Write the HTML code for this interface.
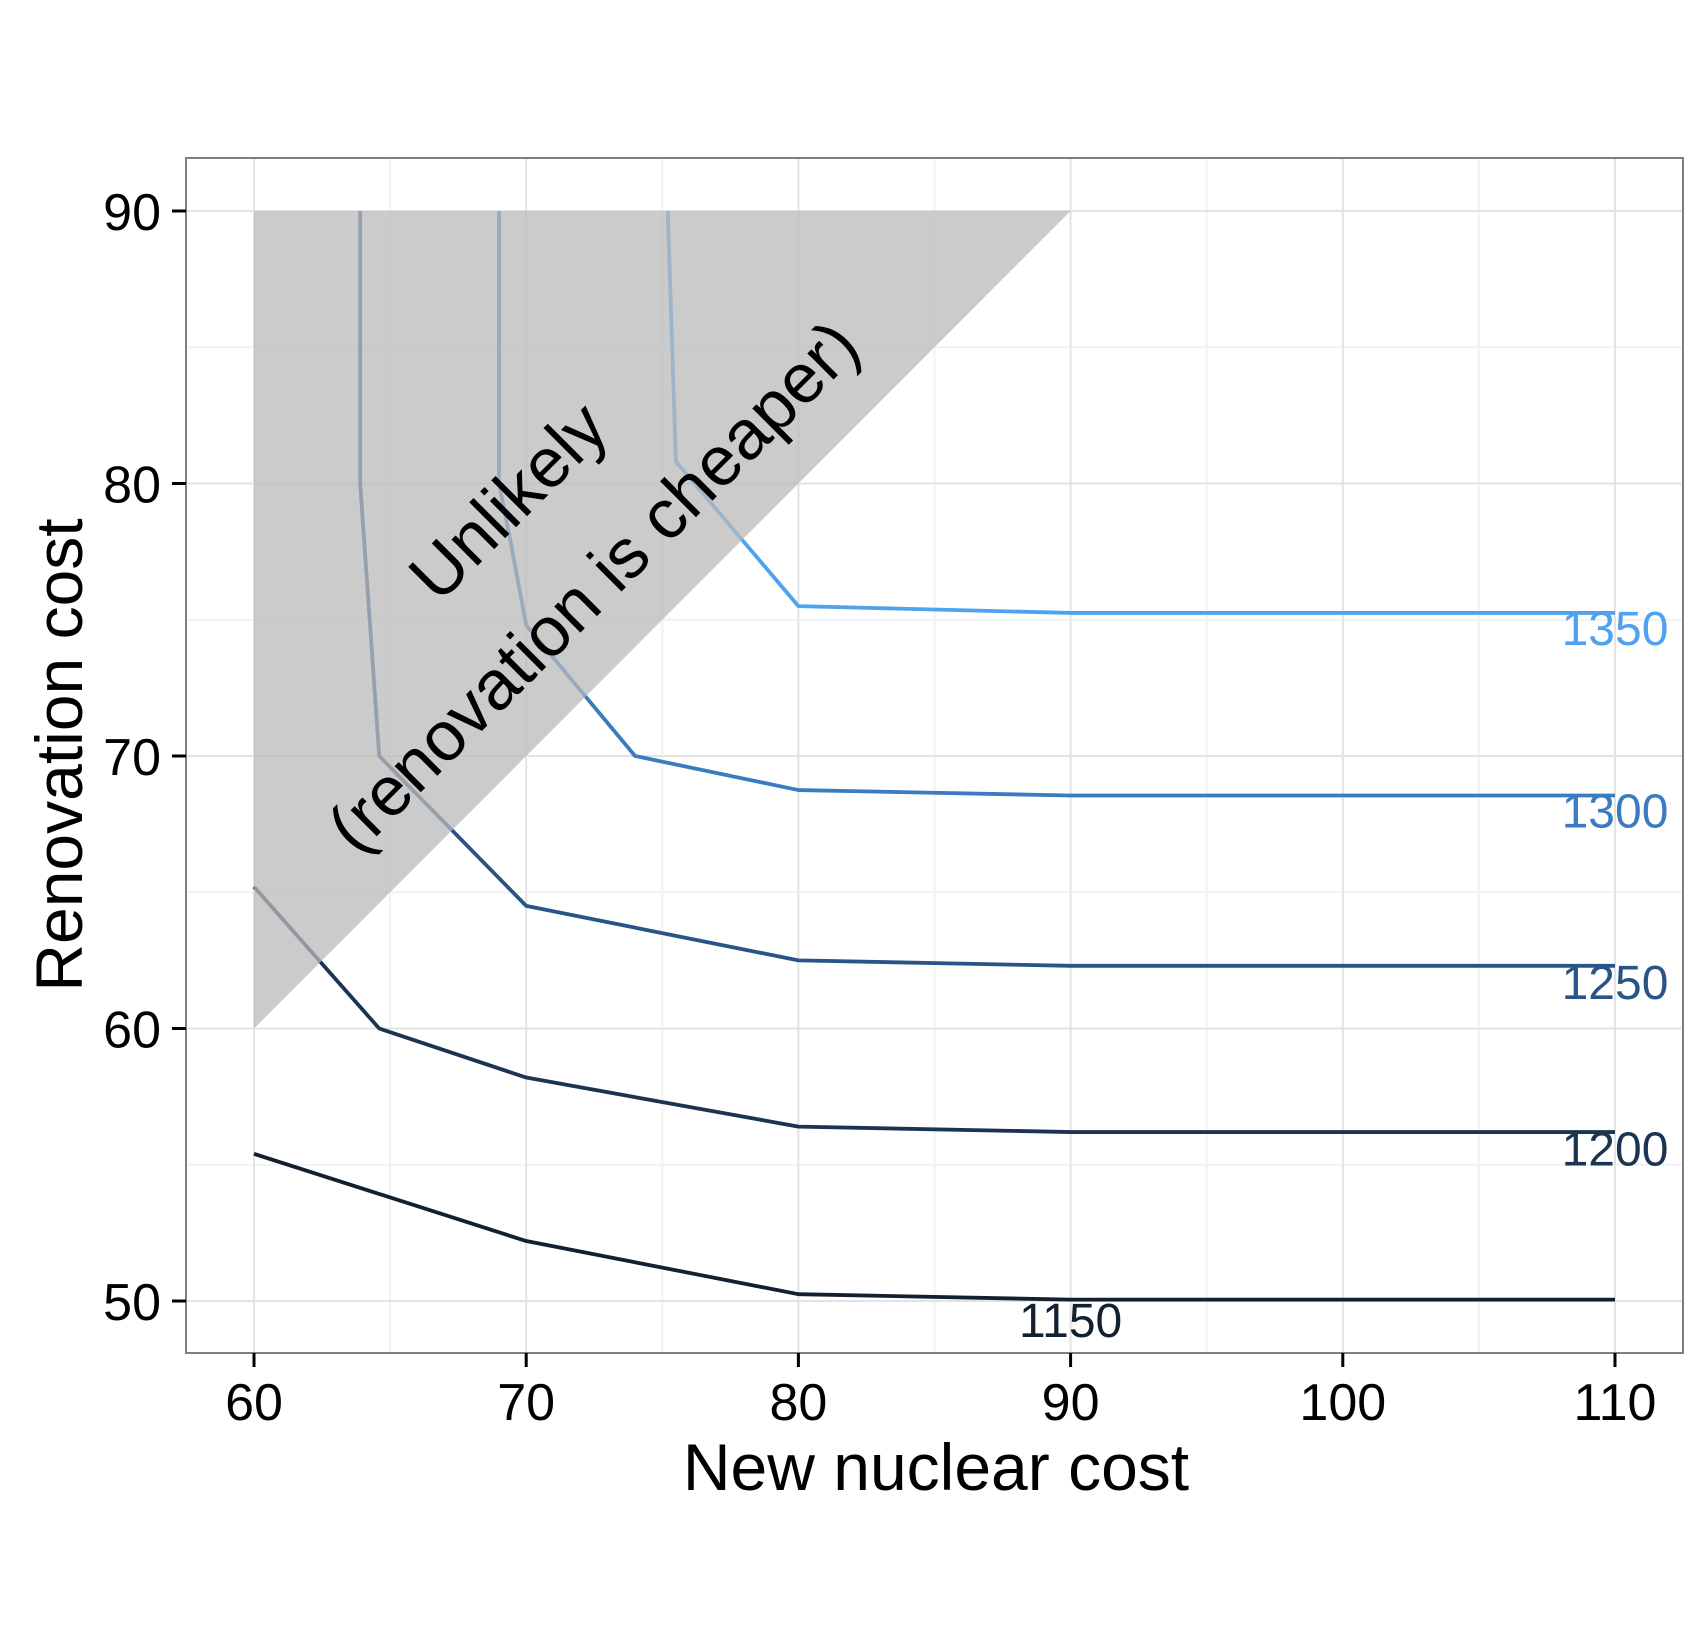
<!DOCTYPE html>
<html><head><meta charset="utf-8"><style>
html,body{margin:0;padding:0;background:#fff;}
svg{display:block;font-family:"Liberation Sans",Arial,sans-serif;}
</style></head><body>
<svg id="chart" width="1708" height="1650" viewBox="0 0 1708 1650" xmlns="http://www.w3.org/2000/svg">
<rect width="1708" height="1650" fill="#fff"/>
<g id="grid"></g>
<g id="series"></g>
<g id="overlay"></g>
<g id="labels"></g>
<rect x="186" y="158" width="1497" height="1195" fill="none" stroke="#7f7f7f" stroke-width="2"/>
<g id="axes"></g>
<text x="936" y="1490" font-size="66" text-anchor="middle" fill="#000">New nuclear cost</text>
<text transform="translate(82,755) rotate(-90)" font-size="66" text-anchor="middle" fill="#000">Renovation cost</text>
</svg>
<script>
const xTicks = [60, 70, 80, 90, 100, 110];
const yTicks = [50, 60, 70, 80, 90];
const xMinor = [65, 75, 85, 95, 105];
const yMinor = [55, 65, 75, 85];
const levels = [1150, 1200, 1250, 1300, 1350];
const colors = ["#132030", "#1b3451", "#295586", "#3a7bc2", "#4fa3ee"];
const seriesX = [
  [60, 70, 80, 90, 110],
  [60, 64.6, 70, 80, 90, 110],
  [63.9, 63.9, 64.6, 70, 80, 90, 110],
  [69, 69, 69.4, 70, 74, 80, 90, 110],
  [75.2, 75.5, 80, 90, 110]
];
const seriesY = [
  [55.4, 52.2, 50.25, 50.05, 50.05],
  [65.2, 60, 58.2, 56.4, 56.2, 56.2],
  [90, 80, 70, 64.5, 62.5, 62.3, 62.3],
  [90, 80, 78, 74.8, 70, 68.75, 68.55, 68.55],
  [90, 80.8, 75.5, 75.25, 75.25]
];
const labelX = [90, 110, 110, 110, 110];
const labelY = [49.3, 55.6, 61.7, 68.0, 74.7];
const regionX = [60, 90, 60];
const regionY = [90, 90, 60];

const NS = "http://www.w3.org/2000/svg";
const X = v => 254 + (v - 60) * 27.22;
const Y = v => 211 + (90 - v) * 27.25;
const L = 186, R = 1683, T = 158, B = 1353;
function mk(tag, attrs, parent) {
  const e = document.createElementNS(NS, tag);
  for (const k in attrs) e.setAttribute(k, attrs[k]);
  parent.appendChild(e); return e;
}
const grid = document.getElementById('grid');
mk('rect', {x: L, y: T, width: R - L, height: B - T, fill: '#fff'}, grid);
xMinor.forEach(v => { const e = mk('line', {x1: X(v), x2: X(v), y1: T, y2: B, stroke: '#f2f2f2', 'stroke-width': 2}, grid);
    });
yMinor.forEach(v => { const e = mk('line', {x1: L, x2: R, y1: Y(v), y2: Y(v), stroke: '#f2f2f2', 'stroke-width': 2}, grid);
    });
xTicks.forEach(v => { const e = mk('line', {x1: X(v), x2: X(v), y1: T, y2: B, stroke: '#e3e3e3', 'stroke-width': 2}, grid);
    });
yTicks.forEach(v => { const e = mk('line', {x1: L, x2: R, y1: Y(v), y2: Y(v), stroke: '#e3e3e3', 'stroke-width': 2}, grid);
    });

const series = document.getElementById('series');
levels.forEach((lv, i) => {
  const pts = seriesX[i].map((x, j) => X(x) + ',' + Y(seriesY[i][j])).join(' ');
  const e = mk('polyline', {points: pts, fill: 'none', stroke: colors[i], 'stroke-width': 3.8, 'stroke-linejoin': 'round'}, series);
  
  
});

const ov = document.getElementById('overlay');
const tri = mk('polygon', {points: regionX.map((x, j) => X(x) + ',' + Y(regionY[j])).join(' '), fill: '#b9b9b9', 'fill-opacity': 0.75}, ov);


const tg = mk('text', {transform: 'translate(552,545) rotate(-45)', 'font-size': 70, 'text-anchor': 'middle', fill: '#000'}, ov);


const t1 = mk('tspan', {x: 0, y: -38}, tg); t1.textContent = 'Unlikely';
const t2 = mk('tspan', {x: 0, y: 82}, tg); t2.textContent = '(renovation is cheaper)';

const lab = document.getElementById('labels');
levels.forEach((lv, i) => {
  const e = mk('text', {x: X(labelX[i]), y: Y(labelY[i]) + 17, 'font-size': 48, 'text-anchor': 'middle', fill: colors[i]}, lab);
  
  
  e.textContent = lv;
});

const ax = document.getElementById('axes');
xTicks.forEach(v => {
  const t = mk('line', {x1: X(v), x2: X(v), y1: B, y2: B + 14, stroke: '#000', 'stroke-width': 3}, ax);
   
  const e = mk('text', {x: X(v), y: 1420, 'font-size': 52, 'text-anchor': 'middle', fill: '#000'}, ax);
   
  e.textContent = v;
});
yTicks.forEach(v => {
  const t = mk('line', {x1: L - 14, x2: L, y1: Y(v), y2: Y(v), stroke: '#000', 'stroke-width': 3}, ax);
   
  const e = mk('text', {x: 161, y: Y(v) + 19, 'font-size': 52, 'text-anchor': 'end', fill: '#000'}, ax);
   
  e.textContent = v;
});
</script>
</body></html>
